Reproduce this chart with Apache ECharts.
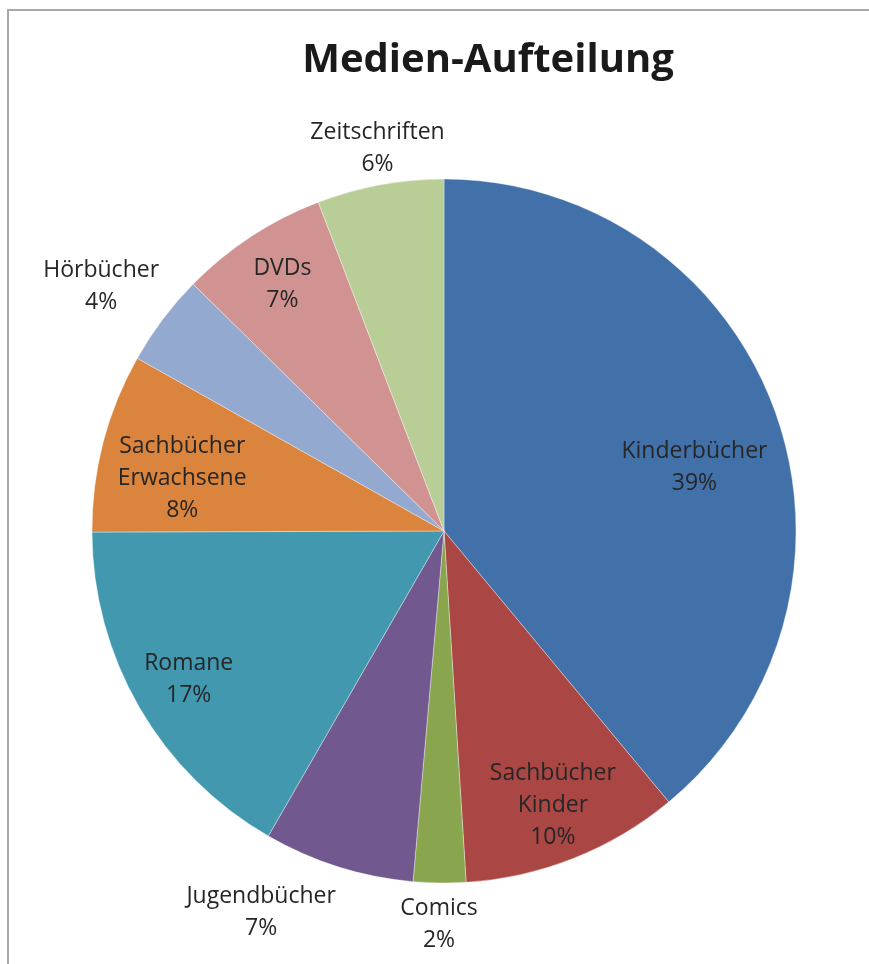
<!DOCTYPE html>
<html>
<head>
<meta charset="utf-8">
<script src="https://cdn.jsdelivr.net/npm/echarts@6/dist/echarts.min.js"></script>
<style>
    html, body { margin: 0; padding: 0; background: #fff; }
    #chart { position: absolute; left: 0; top: 0; width: 869px; height: 964px; }
    #frame {
        position: absolute; left: 7px; top: 9px; width: 900px; height: 1000px;
        border-top: 2px solid #a9a9a9; border-left: 2px solid #a9a9a9;
        pointer-events: none;
    }
</style>
</head>
<body>
<div id="chart"></div>
<div id="frame"></div>
<script>
    const categories = ['Kinderbücher', 'Sachbücher Kinder', 'Comics', 'Jugendbücher', 'Romane',
        'Sachbücher Erwachsene', 'Hörbücher', 'DVDs', 'Zeitschriften'];
    const values = [38.9, 10.0, 2.4, 6.9, 16.6, 8.2, 4.2, 6.8, 5.8];

    const colors = ['#4171A8', '#AA4643', '#89A54E', '#71588F', '#4198AF',
        '#DB843D', '#93A9CF', '#D19392', '#B9CD96'];

    // Beschriftung mit Zeilenumbruch wie im Original
    const labelNames = {
        'Sachbücher Kinder': 'Sachbücher\nKinder',
        'Sachbücher Erwachsene': 'Sachbücher\nErwachsene'
    };

    const R = 352;
    const center = [444, 531];
    const fontFamily = '"Open Sans", "Noto Sans", sans-serif';

    // Ringe für die Beschriftungen (Anteil vom Radius)
    const labelRings = [
        { ratio: 0.76, names: ['Kinderbücher', 'Sachbücher Erwachsene'] },
        { ratio: 0.83, names: ['Sachbücher Kinder', 'Romane', 'DVDs'] },
        { ratio: 1.11, names: ['Zeitschriften', 'Comics'] },
        { ratio: 1.20, names: ['Hörbücher', 'Jugendbücher'] }
    ];
    // kleine Verschiebungen wie bei Excel (px)
    const labelNudge = {
        'Kinderbücher': [-4, 28],
        'Sachbücher Erwachsene': [0, 16],
        'Hörbücher': [-3, 11],
        'Jugendbücher': [-55, -24],
        'Zeitschriften': [5, 5]
    };

    const pieData = categories.map((c, i) => ({ name: c, value: values[i] }));

    const labelSeries = labelRings.map(ring => ({
        type: 'pie',
        silent: true,
        radius: 2 * ring.ratio * R,
        center: center,
        startAngle: 90,
        clockwise: true,
        itemStyle: { color: 'rgba(0,0,0,0)', borderWidth: 0 },
        emphasis: { disabled: true },
        labelLine: { show: false },
        data: pieData.map(d => ({
            name: d.name,
            value: d.value,
            label: { show: ring.names.indexOf(d.name) >= 0 }
        })),
        label: {
            position: 'inside',
            color: '#262626',
            fontFamily: fontFamily,
            fontSize: 23,
            lineHeight: 32,
            formatter: p => (labelNames[p.name] || p.name) + '\n' + Math.round(p.percent) + '%'
        },
        labelLayout: params => {
            const n = labelNudge[categories[params.dataIndex]];
            return n ? { dx: n[0], dy: n[1] } : {};
        }
    }));

    const myChart = echarts.init(document.getElementById('chart'));
    myChart.setOption({
        backgroundColor: '#fff',
        animation: false,
        color: colors,
        title: {
            text: 'Medien-Aufteilung',
            left: 483,
            top: 36,
            textAlign: 'center',
            textStyle: {
                fontFamily: fontFamily,
                fontWeight: 'bold',
                fontSize: 40,
                color: '#1a1a1a'
            }
        },
        series: [{
            type: 'pie',
            radius: R,
            center: center,
            startAngle: 90,
            clockwise: true,
            label: { show: false },
            labelLine: { show: false },
            itemStyle: { borderColor: 'rgba(255,255,255,0.6)', borderWidth: 0.6 },
            emphasis: { disabled: true },
            data: pieData
        }].concat(labelSeries)
    });
</script>
</body>
</html>
